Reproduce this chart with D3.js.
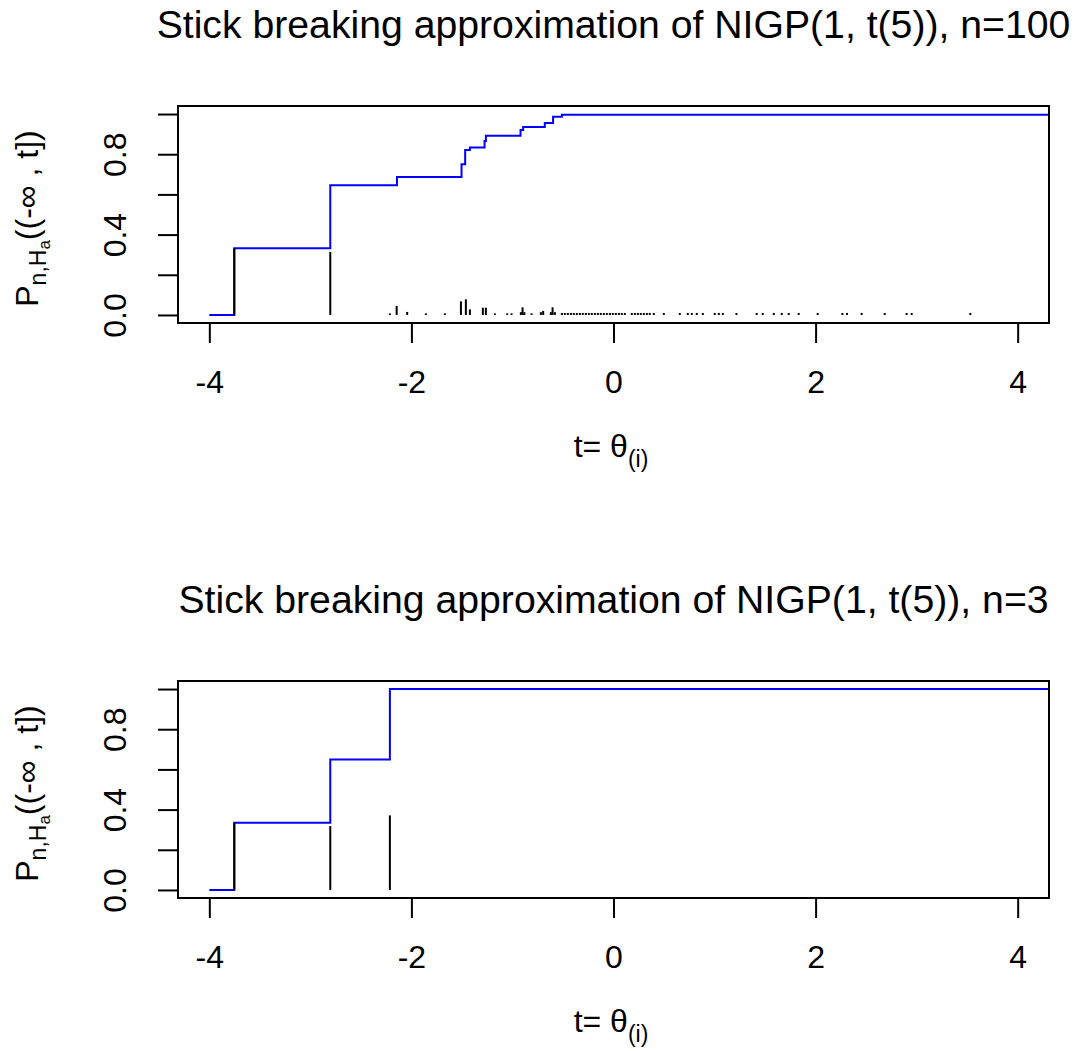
<!DOCTYPE html>
<html>
<head>
<meta charset="utf-8">
<script src="https://cdn.jsdelivr.net/npm/d3@7"></script>
<style>
  body { margin: 0; background: #fff; }
  svg { display: block; font-family: "Liberation Sans", Arial, sans-serif; }
</style>
</head>
<body>
<svg id="chart" width="1079" height="1051"></svg>
<script>
// axis ticks
var xTicks = [-4, -2, 0, 2, 4];
var yTicks = [0, 0.2, 0.4, 0.6, 0.8, 1.0];
var yTickLabels = ["0.0", "", "0.4", "", "0.8", ""];

// n = 100 : step function (jump locations and levels after the jump)
var stepX100 = [-3.753, -2.803, -2.143, -1.504, -1.468, -1.421, -1.276, -1.263, -0.920, -0.894, -0.680, -0.598, -0.511];
var stepY100 = [0.332, 0.646, 0.687, 0.750, 0.821, 0.833, 0.866, 0.892, 0.921, 0.936, 0.956, 0.986, 0.997];

// n = 100 : stick locations and weights
var stickX100 = [-3.753, -2.803, -2.213, -2.146, -2.042, -1.857, -1.669, -1.510, -1.461, -1.421,
    -1.293, -1.263, -1.174, -1.052, -1.009, -0.917, -0.900, -0.882, -0.811, -0.719,
    -0.696, -0.620, -0.603, -0.580, -0.511, -0.482, -0.452, -0.422, -0.393, -0.363,
    -0.333, -0.304, -0.274, -0.244, -0.215, -0.185, -0.155, -0.126, -0.096, -0.066,
    -0.036, -0.007, 0.023, 0.053, 0.082, 0.112, 0.181, 0.211, 0.241, 0.270,
    0.300, 0.330, 0.359, 0.399, 0.498, 0.656, 0.735, 0.775, 0.824, 0.884,
    1.002, 1.042, 1.082, 1.217, 1.417, 1.477, 1.586, 1.665, 1.734, 1.833,
    2.021, 2.265, 2.311, 2.456, 2.684, 2.901, 2.951, 3.531];
var stickW100 = [0.332, 0.314, 0.008, 0.045, 0.015, 0.008, 0.008, 0.068, 0.078, 0.028,
    0.036, 0.036, 0.008, 0.008, 0.008, 0.014, 0.038, 0.014, 0.008, 0.014,
    0.020, 0.014, 0.038, 0.014, 0.010, 0.010, 0.010, 0.010, 0.010, 0.010,
    0.010, 0.010, 0.010, 0.010, 0.010, 0.010, 0.010, 0.010, 0.010, 0.010,
    0.010, 0.010, 0.010, 0.010, 0.010, 0.010, 0.010, 0.010, 0.010, 0.010,
    0.010, 0.010, 0.010, 0.010, 0.010, 0.010, 0.010, 0.010, 0.010, 0.010,
    0.010, 0.010, 0.010, 0.010, 0.010, 0.010, 0.010, 0.010, 0.010, 0.010,
    0.010, 0.010, 0.010, 0.010, 0.010, 0.010, 0.010, 0.010];

// n = 3
var stepX3 = [-3.753, -2.803, -2.213];
var stepY3 = [0.334, 0.649, 1.0];
var stickX3 = [-3.753, -2.803, -2.213];
var stickW3 = [0.334, 0.318, 0.371];

var svg = d3.select("#chart");

function drawPanel(top, title, stepX, stepY, stickX, stickW, id) {
    var box = {left: 178, right: 1049, top: top, bottom: top + 217};
    var g = svg.append("g");

    var x = d3.scaleLinear().domain([-4.31, 4.31]).range([box.left, box.right]);
    var y = d3.scaleLinear().domain([-0.04, 1.04]).range([box.bottom, box.top]);

    g.append("clipPath").attr("id", "clip" + id)
        .append("rect")
        .attr("x", box.left).attr("y", box.top)
        .attr("width", box.right - box.left).attr("height", box.bottom - box.top);

    /* blue step function */
    var pts = [{t: -4, p: 0}];
    stepX.forEach((v, i) => pts.push({t: v, p: stepY[i]}));
    pts.push({t: 4.4, p: stepY[stepY.length - 1]});
    var line = d3.line().x(d => x(d.t)).y(d => y(d.p)).curve(d3.curveStepAfter);
    g.append("path")
        .datum(pts)
        .attr("clip-path", "url(#clip" + id + ")")
        .attr("d", line)
        .attr("fill", "none")
        .attr("stroke", "#0000ff")
        .attr("stroke-width", 2);

    /* sticks */
    g.selectAll("line.stick")
        .data(stickX.map((v, i) => ({t: v, w: stickW[i]})))
        .join("line")
        .attr("class", "stick")
        .attr("x1", d => x(d.t)).attr("x2", d => x(d.t))
        .attr("y1", y(0)).attr("y2", d => y(d.w))
        .attr("stroke", "#000")
        .attr("stroke-width", 2);

    /* box */
    g.append("rect")
        .attr("x", box.left).attr("y", box.top)
        .attr("width", box.right - box.left).attr("height", box.bottom - box.top)
        .attr("fill", "none").attr("stroke", "#000").attr("stroke-width", 2);

    /* x axis */
    var xa = g.append("g").attr("transform", "translate(0," + box.bottom + ")")
        .call(d3.axisBottom(x).tickValues(xTicks).tickSize(20).tickPadding(27)
            .tickFormat(d => d3.format("d")(d).replace("\u2212", "-")));
    xa.select(".domain").remove();
    xa.selectAll("line").attr("stroke-width", 2);
    xa.selectAll("text").attr("font-size", 32).attr("fill", "#000")
        .attr("font-family", "Liberation Sans, Arial, sans-serif");

    /* y axis */
    var ya = g.append("g").attr("transform", "translate(" + box.left + ",0)")
        .call(d3.axisLeft(y).tickValues(yTicks).tickSize(20).tickFormat((d, i) => yTickLabels[i]));
    ya.select(".domain").remove();
    ya.selectAll("line").attr("stroke-width", 2);
    ya.selectAll("text")
        .attr("x", null).attr("dy", null)
        .attr("font-size", 32).attr("fill", "#000")
        .attr("font-family", "Liberation Sans, Arial, sans-serif")
        .attr("text-anchor", "middle")
        .attr("transform", "translate(-52,0) rotate(-90)");

    /* title */
    svg.append("text")
        .attr("x", (box.left + box.right) / 2)
        .attr("y", top - 68)
        .attr("text-anchor", "middle")
        .attr("font-size", 39.2)
        .text(title);

    /* x label: t= theta_(i) */
    var xl = svg.append("text")
        .attr("x", 611)
        .attr("y", box.bottom + 134)
        .attr("text-anchor", "middle")
        .attr("font-size", 32);
    xl.append("tspan").text("t= \u03b8");
    xl.append("tspan").attr("font-size", 23).attr("dy", 10).text("(i)");

    /* y label: P_{n,H_a}((-inf , t]) */
    var cy = (box.top + box.bottom) / 2 + 4;
    var yl = svg.append("text")
        .attr("transform", "translate(38," + cy + ") rotate(-90)")
        .attr("text-anchor", "middle")
        .attr("font-size", 32);
    yl.append("tspan").text("P");
    yl.append("tspan").attr("font-size", 23).attr("dy", 8).text("n,H");
    yl.append("tspan").attr("font-size", 17).attr("dy", 4).text("a");
    yl.append("tspan").attr("dy", -12).text("((-\u221e , t])");
}

drawPanel(106, "Stick breaking approximation of NIGP(1, t(5)), n=100",
    stepX100, stepY100, stickX100, stickW100, 1);
drawPanel(681, "Stick breaking approximation of NIGP(1, t(5)), n=3",
    stepX3, stepY3, stickX3, stickW3, 2);
</script>
</body>
</html>
